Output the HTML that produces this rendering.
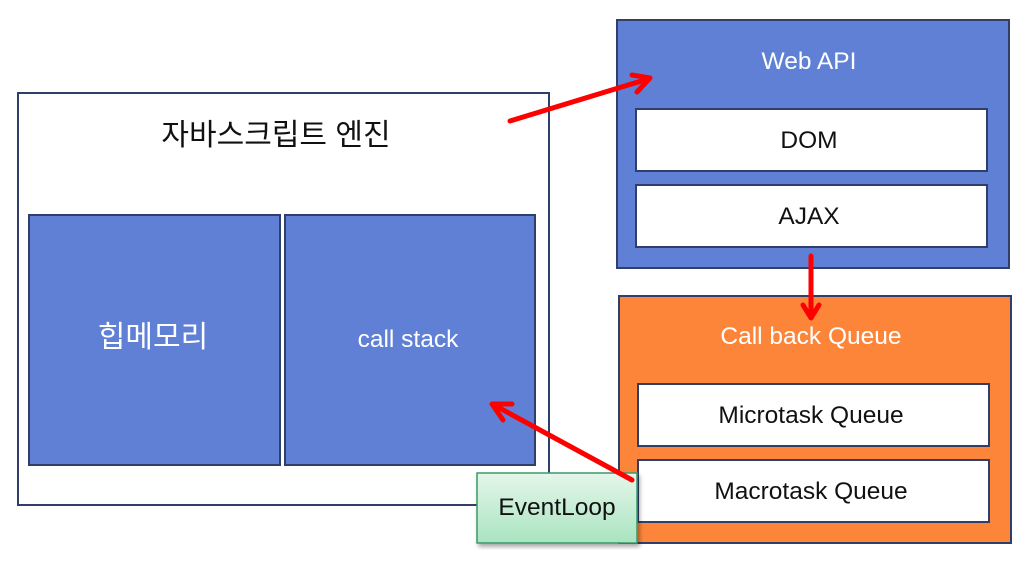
<!DOCTYPE html>
<html><head><meta charset="utf-8"><style>body{margin:0;background:#fff}</style></head><body>
<svg width="1024" height="566" xmlns="http://www.w3.org/2000/svg" font-family="Liberation Sans, Noto Sans CJK KR, sans-serif">
<defs><linearGradient id="g" x1="0" y1="0" x2="0" y2="1"><stop offset="0" stop-color="#e4f6ea"/><stop offset="1" stop-color="#a9e4c0"/></linearGradient>
<filter id="s"><feDropShadow dx="2" dy="3" stdDeviation="2" flood-opacity="0.35"/></filter></defs>
<rect x="18" y="93" width="531" height="412" fill="#fff" stroke="#2f3f6a" stroke-width="2"/>
<text x="276" y="145" font-size="30" text-anchor="middle" fill="#111">자바스크립트 엔진</text>
<rect x="29" y="215" width="251" height="250" fill="#6080d6" stroke="#2f3f6a" stroke-width="2"/>
<text x="153" y="347" font-size="30" text-anchor="middle" fill="#fff">힙메모리</text>
<rect x="285" y="215" width="250" height="250" fill="#6080d6" stroke="#2f3f6a" stroke-width="2"/>
<text x="408" y="347" font-size="24.5" text-anchor="middle" fill="#fff">call stack</text>
<rect x="617" y="20" width="392" height="248" fill="#6080d6" stroke="#2f3f6a" stroke-width="2"/>
<text x="809" y="69" font-size="24.5" text-anchor="middle" fill="#fff">Web API</text>
<rect x="636" y="109" width="351" height="62" fill="#fff" stroke="#2f3f6a" stroke-width="2"/>
<text x="809" y="148" font-size="24.5" text-anchor="middle" fill="#111">DOM</text>
<rect x="636" y="185" width="351" height="62" fill="#fff" stroke="#2f3f6a" stroke-width="2"/>
<text x="809" y="224" font-size="24.5" text-anchor="middle" fill="#111">AJAX</text>
<rect x="619" y="296" width="392" height="247" fill="#fd853a" stroke="#2f3f6a" stroke-width="2"/>
<text x="811" y="344" font-size="24.5" text-anchor="middle" fill="#fff">Call back Queue</text>
<rect x="638" y="384" width="351" height="62" fill="#fff" stroke="#2f3f6a" stroke-width="2"/>
<text x="811" y="423" font-size="24.5" text-anchor="middle" fill="#111">Microtask Queue</text>
<rect x="638" y="460" width="351" height="62" fill="#fff" stroke="#2f3f6a" stroke-width="2"/>
<text x="811" y="499" font-size="24.5" text-anchor="middle" fill="#111">Macrotask Queue</text>
<rect x="477" y="473" width="160" height="70" fill="url(#g)" stroke="#3a9a6a" stroke-width="1.5" filter="url(#s)"/>
<text x="557" y="515" font-size="24.5" text-anchor="middle" fill="#111">EventLoop</text>
<g stroke="#f00" stroke-width="5" fill="none" stroke-linecap="round" stroke-linejoin="round">
<line x1="510" y1="121" x2="648" y2="79"/><polyline points="632,75 650,78 637,92"/>
<line x1="811" y1="256" x2="811" y2="316"/><polyline points="803,305 811,318 819,305"/>
<line x1="632" y1="480" x2="494" y2="405"/><polyline points="503,420 492,404 512,404"/>
</g>
</svg>
</body></html>
